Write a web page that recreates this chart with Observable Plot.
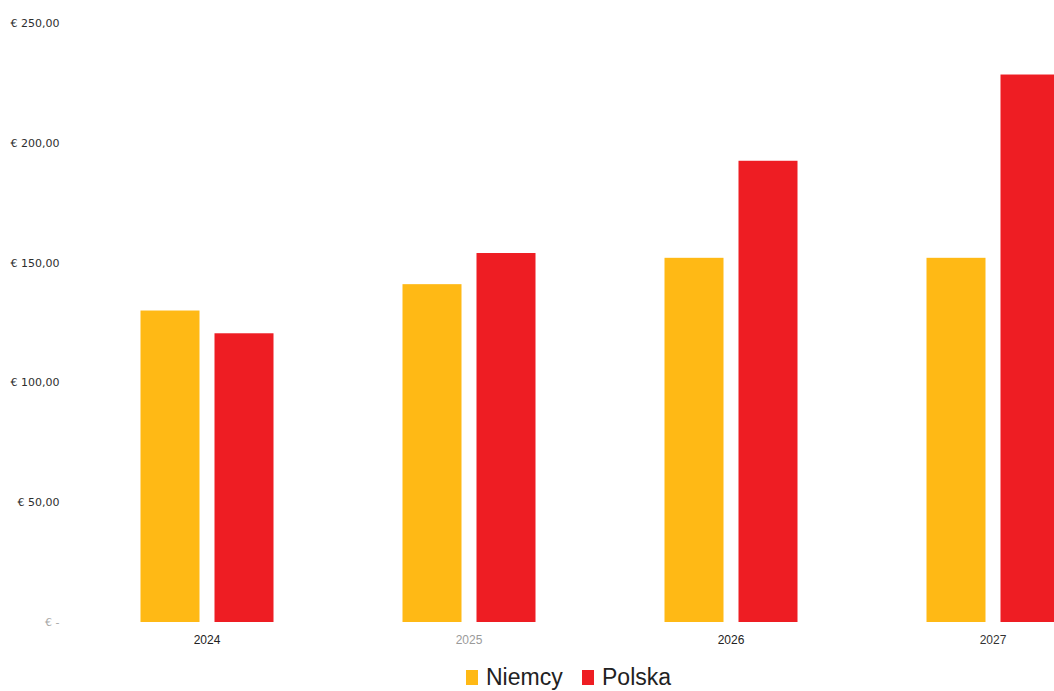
<!DOCTYPE html>
<html>
<head>
<meta charset="utf-8">
<script src="https://cdn.jsdelivr.net/npm/d3@7"></script>
<script src="https://cdn.jsdelivr.net/npm/@observablehq/plot@0.6"></script>
<style>
  html, body { margin: 0; padding: 0; background: #fff; overflow: hidden; }
  #chart { width: 1054px; height: 660px; }
  #legend { position: relative; height: 31px; width: 1054px; font-family: "Liberation Sans", Arial, sans-serif; font-size: 23px; color: #222; }
  #legend .item { position: absolute; top: 4px; display: flex; align-items: center; }
  #legend .sw { width: 12px; height: 15px; margin-right: 8px; }
</style>
</head>
<body>
<div id="chart"></div>
<div id="legend"></div>
<script>
const years = ["2024", "2025", "2026", "2027"];
const series = ["Niemcy", "Polska"];
const niemcy = [130, 141, 152, 152];
const polska = [120.5, 154, 192.5, 228.5];
const seriesColors = ["#FFB915", "#EE1D23"];
const yTicks = [0, 50, 100, 150, 200, 250];
const yTickLabels = ["€ -", "€ 50,00", "€ 100,00", "€ 150,00", "€ 200,00", "€ 250,00"];
const yearLabelColors = ["#222", "#9a9a9a", "#222", "#333"];

const data = [];
years.forEach((yr, i) => {
  data.push({year: yr, series: series[0], value: niemcy[i]});
  data.push({year: yr, series: series[1], value: polska[i]});
});

const chart = Plot.plot({
  width: 1054,
  height: 660,
  marginTop: 23,
  marginBottom: 38,
  marginLeft: 139.5,
  marginRight: 0,
  style: { fontFamily: "DejaVu Sans, sans-serif", fontSize: "11px", background: "#fff" },
  fx: { domain: years, range: [139.5, 1058.5], paddingInner: 129 / 262, paddingOuter: 0, axis: null, label: null },
  x: { domain: series, paddingInner: 15 / 74, paddingOuter: 0, axis: null, label: null },
  y: { domain: [0, 250], axis: null, label: null },
  color: { domain: series, range: seriesColors },
  marks: [
    Plot.barY(data, { fx: "year", x: "series", y: "value", fill: "series" }),
    Plot.axisY({
      ticks: yTicks,
      tickFormat: d => yTickLabels[yTicks.indexOf(d)],
      tickSize: 0,
      tickPadding: 81,
      label: null,
      fontSize: 11,
      fill: d => d === 0 ? "#a8a8a8" : "#2e2e2e"
    }),
    Plot.text(years, {
      fx: d => d,
      text: d => d,
      frameAnchor: "bottom",
      dy: 21,
      fontSize: 12,
      fontFamily: "Liberation Sans, Arial, sans-serif",
      fill: d => yearLabelColors[years.indexOf(d)]
    })
  ]
});
document.getElementById("chart").appendChild(chart);

// legend
const legend = document.getElementById("legend");
const positions = [466, 582];
series.forEach((s, i) => {
  const item = document.createElement("div");
  item.className = "item";
  item.style.left = positions[i] + "px";
  const sw = document.createElement("span");
  sw.className = "sw";
  sw.style.background = seriesColors[i];
  const t = document.createElement("span");
  t.textContent = s;
  item.appendChild(sw);
  item.appendChild(t);
  legend.appendChild(item);
});
</script>
</body>
</html>
